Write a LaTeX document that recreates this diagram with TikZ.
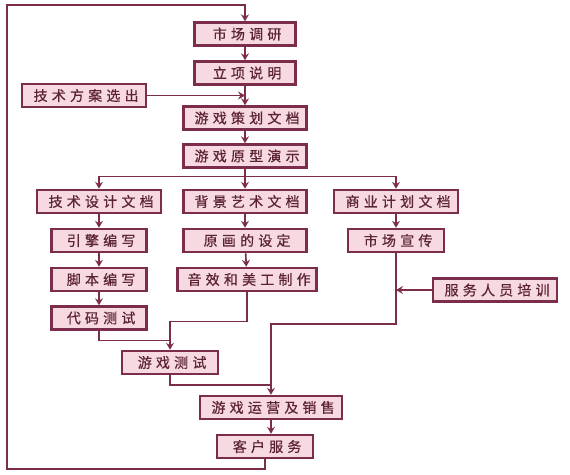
\documentclass[tikz,border=0pt]{standalone}
\usepackage{fontspec}
\newfontfamily\cjkfont[LetterSpace=30,FakeBold=0.6]{Noto Sans CJK SC}
\usetikzlibrary{arrows.meta}
\definecolor{boxline}{HTML}{7B2D4B}
\definecolor{boxfill}{HTML}{F7D9E2}
\definecolor{boxtext}{HTML}{5C2433}
\tikzset{
  stepbox/.style={draw=boxline,line width=2.5pt,fill=boxfill,text=boxtext,
    font=\cjkfont\fontsize{14}{16}\selectfont,minimum height=23pt,
    inner xsep=2pt,execute at end node={\kern-0.3em}},
  flow/.style={draw=boxline,line width=1.6pt},
  >={Stealth[length=7pt,width=8pt,inset=2.5pt]}
}
\begin{document}
\begin{tikzpicture}[x=1pt,y=-1pt]
\useasboundingbox (0,0) rectangle (570,474);
% main column
\node[stepbox,minimum width=101pt] (survey) at (245,34) {市场调研};
\node[stepbox,minimum width=101pt] (approve) at (245,73) {立项说明};
\node[stepbox,minimum width=124pt] (techplan) at (84,95.5) {技术方案选出};
\node[stepbox,minimum width=123pt] (design) at (245,118) {游戏策划文档};
\node[stepbox,minimum width=123pt] (proto) at (245,156) {游戏原型演示};
% three branches
\node[stepbox,minimum width=124pt] (techdoc) at (99,201.5) {技术设计文档};
\node[stepbox,minimum width=123pt] (artdoc) at (245,201.5) {背景艺术文档};
\node[stepbox,minimum width=124pt] (bizdoc) at (396,201.5) {商业计划文档};
\node[stepbox,minimum width=95pt] (engine) at (99,240.5) {引擎编写};
\node[stepbox,minimum width=123pt] (concept) at (245,240.5) {原画的设定};
\node[stepbox,minimum width=96pt] (promo) at (396,240.5) {市场宣传};
\node[stepbox,minimum width=95pt] (script) at (99,279.5) {脚本编写};
\node[stepbox,minimum width=139pt] (sound) at (247,279.5) {音效和美工制作};
\node[stepbox,minimum width=95pt] (code) at (99,318) {代码测试};
\node[stepbox,minimum width=124pt] (train) at (495,290) {服务人员培训};
% bottom
\node[stepbox,minimum width=96pt] (test) at (170,362.5) {游戏测试};
\node[stepbox,minimum width=142pt] (ops) at (271,407.5) {游戏运营及销售};
\node[stepbox,minimum width=96pt] (service) at (265,446.5) {客户服务};
\coordinate (fork) at (245,176.5);
\coordinate (join1) at (170,321.5);
\coordinate (join2) at (170,340.5);
\coordinate (join3) at (271,324);
\coordinate (join4) at (271,385);
\coordinate (back) at (7,5);
% connectors
\draw[flow,->] (survey) -- (approve);
\draw[flow,->] (approve) -- (design);
\draw[flow,->] (techplan.east) -- (techplan.east -| approve.south);
\draw[flow,->] (design) -- (proto);
\draw[flow,->] (proto) -- (artdoc);
\draw[flow,->] (fork) -| (techdoc.north);
\draw[flow,->] (fork) -| (bizdoc.north);
\draw[flow,->] (techdoc) -- (engine);
\draw[flow,->] (engine) -- (script);
\draw[flow,->] (script) -- (code);
\draw[flow,->] (artdoc) -- (concept);
\draw[flow,->] (concept) -- (sound);
\draw[flow,->] (bizdoc) -- (promo);
\draw[flow,->] (train.west) -- (train.west -| promo.south);
\draw[flow,->] (sound.south) |- (join1) -- (test.north);
\draw[flow] (code.south) |- (join2);
\draw[flow,->] (promo.south) |- (join3) -- (ops.north);
\draw[flow] (test.south) |- (join4);
\draw[flow,->] (ops.south) -- (ops.south |- service.north);
\draw[flow,->] (service.south) -- ++(0,10) -| (back) -| (survey.north);
\end{tikzpicture}
\end{document}
